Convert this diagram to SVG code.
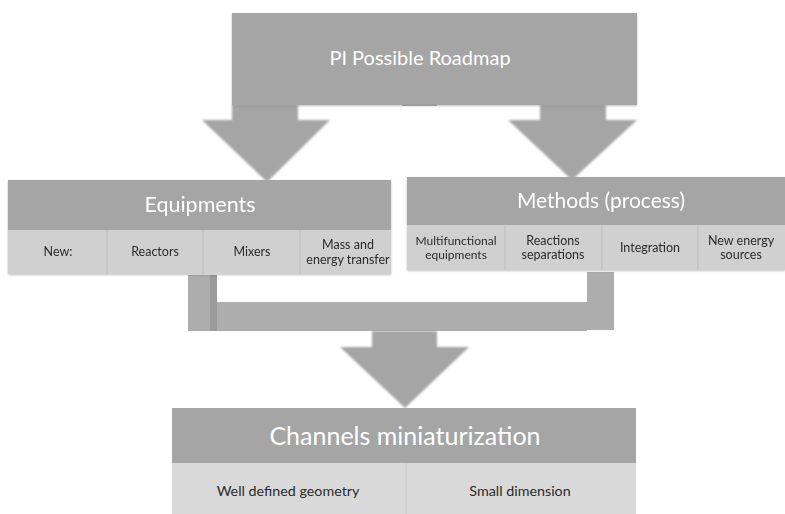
<svg xmlns="http://www.w3.org/2000/svg" width="785" height="514" viewBox="0 0 785 514">
<defs>
<style>
.hdr{fill:#a5a5a5}
.cell{fill:#d0d0d0}
.cell2{fill:#d9d9d9}
.div{stroke:#bdbdbd;stroke-width:1}
.arrow{fill:#a5a5a5;filter:url(#soft)}
.conn{fill:#adadad}
.ht{font-family:Lato,"Open Sans",sans-serif;fill:#ffffff;text-anchor:middle}
.ct{font-family:Lato,"Open Sans",sans-serif;fill:#2b2b2b;text-anchor:middle}
</style>
<filter id="soft" x="-10%" y="-10%" width="120%" height="120%"><feGaussianBlur stdDeviation="0.8"/></filter>
<filter id="sh" x="-5%" y="-5%" width="110%" height="115%"><feDropShadow dx="0" dy="1" stdDeviation="1" flood-color="#000" flood-opacity="0.25"/></filter>
</defs>
<g id="connectors">
<path class="arrow" d="M232 105 H298 V120 H330 L267 182 L202 120 H232 Z"/>
<path class="arrow" d="M540 105 H606 V120 H637 L572 180 L508 120 H540 Z"/>
<rect class="conn" x="188" y="275" width="29" height="56"/>
<rect x="210" y="275" width="7" height="56" fill="#9a9a9a"/>
<rect class="conn" x="217" y="302" width="370" height="29"/>
<rect class="conn" x="587" y="272" width="27" height="58"/>
<path class="arrow" d="M372 331 H437 V347 H469 L405 408 L340 347 H372 Z"/>
</g>
<g id="top">
<rect class="hdr" x="232" y="13" width="405" height="92" filter="url(#sh)"/>
<rect x="402" y="104" width="35" height="2" fill="#9c9c9c"/>
<text class="ht" x="420" y="65" font-size="20">PI Possible Roadmap</text>
</g>
<g id="equipments" filter="url(#sh)">
<rect class="hdr" x="8" y="180" width="383" height="50"/>
<rect class="cell" x="8" y="230" width="383" height="44"/>
<line class="div" x1="107" y1="230" x2="107" y2="274"/>
<line class="div" x1="203" y1="230" x2="203" y2="274"/>
<line class="div" x1="300" y1="230" x2="300" y2="274"/>
<text class="ht" x="200" y="212" font-size="21.5">Equipments</text>
<text class="ct" x="58" y="256" font-size="12.5">New:</text>
<text class="ct" x="155" y="256" font-size="12.5">Reactors</text>
<text class="ct" x="252" y="256" font-size="12.5">Mixers</text>
<text class="ct" x="348" y="249" font-size="12.5">Mass and</text>
<text class="ct" x="348" y="264" font-size="12.5">energy transfer</text>
</g>
<g id="methods" filter="url(#sh)">
<rect class="hdr" x="407" y="177" width="378" height="48"/>
<rect class="cell" x="407" y="225" width="378" height="45"/>
<line class="div" x1="505" y1="225" x2="505" y2="270"/>
<line class="div" x1="602" y1="225" x2="602" y2="270"/>
<line class="div" x1="698" y1="225" x2="698" y2="270"/>
<text class="ht" x="601" y="208" font-size="21">Methods (process)</text>
<text class="ct" x="456" y="245" font-size="12">Multifunctional</text>
<text class="ct" x="456" y="259" font-size="12">equipments</text>
<text class="ct" x="553" y="245" font-size="12.5">Reactions</text>
<text class="ct" x="553" y="259" font-size="12.5">separations</text>
<text class="ct" x="650" y="252" font-size="12.5">Integration</text>
<text class="ct" x="741" y="245" font-size="12.5">New energy</text>
<text class="ct" x="741" y="259" font-size="12.5">sources</text>
</g>
<g id="channels">
<rect class="hdr" x="172" y="408" width="464" height="55"/>
<rect class="cell2" x="172" y="463" width="464" height="51"/>
<line x1="406" y1="463" x2="406" y2="514" stroke="#c8c8c8"/>
<text class="ht" x="405" y="445" font-size="25">Channels miniaturization</text>
<text class="ct" x="288" y="496" font-size="14.3">Well defined geometry</text>
<text class="ct" x="520" y="496" font-size="14.3">Small dimension</text>
</g>
</svg>
